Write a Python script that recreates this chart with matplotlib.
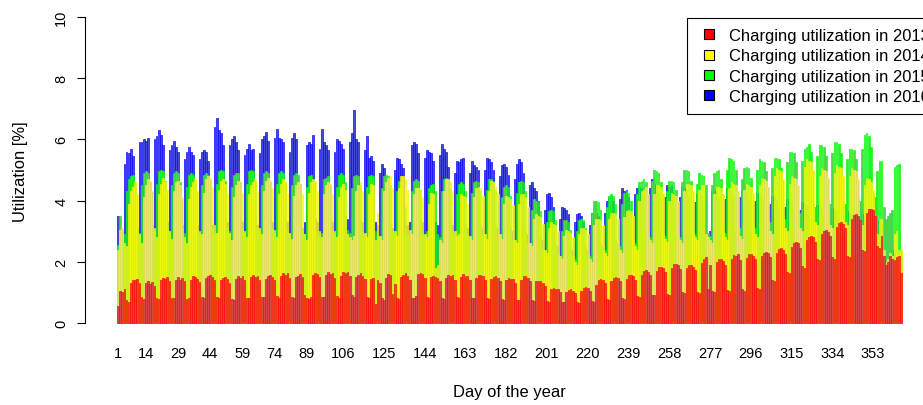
import matplotlib
matplotlib.use("Agg")
import matplotlib.pyplot as plt
from matplotlib.lines import Line2D

plt.rcParams['font.family'] = ['Liberation Sans', 'DejaVu Sans']

# daily charging utilization [%], one row per week (day 1 = Jan 1)
util_2013 = [
    .57, 1.05, 1.0, 1.1, .74, .7, 1.3,
    1.42, 1.4, 1.45, 1.3, .84, .78, 1.32,
    1.38, 1.28, 1.35, 1.2, .8, .79, 1.4,
    1.48, 1.44, 1.5, 1.36, .8, .82, 1.4,
    1.5, 1.42, 1.46, 1.38, .78, .8, 1.42,
    1.55, 1.5, 1.45, 1.35, .84, .8, 1.48,
    1.52, 1.56, 1.5, 1.4, .85, .8, 1.4,
    1.46, 1.5, 1.44, 1.32, .78, .76, 1.45,
    1.52, 1.48, 1.54, 1.4, .82, .8, 1.5,
    1.58, 1.5, 1.55, 1.42, .86, .84, 1.44,
    1.52, 1.58, 1.5, 1.4, .88, .82, 1.52,
    1.62, 1.56, 1.64, 1.48, .85, .8, 1.5,
    1.55, 1.6, 1.5, .9, .82, .78, .85,
    1.58, 1.64, 1.6, 1.5, .86, .84, 1.56,
    1.65, 1.6, 1.62, 1.48, .88, .82, 1.55,
    1.68, 1.64, 1.66, 1.52, .9, .86, 1.5,
    1.56, 1.62, 1.55, 1.45, .84, .8, 1.45,
    1.48, .62, 1.42, 1.3, .8, .76, 1.48,
    1.6, 1.56, .95, 1.28, .8, .78, 1.5,
    1.58, 1.62, 1.55, 1.42, .82, .8, .88,
    1.6, 1.64, 1.6, 1.48, .86, .82, 1.5,
    1.54, 1.5, 1.46, 1.36, .8, .78, 1.48,
    1.58, 1.54, 1.56, 1.42, .84, .8, 1.5,
    1.6, 1.55, 1.52, 1.4, .82, .8, 1.46,
    1.56, 1.58, 1.54, 1.42, .8, .78, 1.45,
    1.5, 1.52, 1.48, 1.36, .78, .76, 1.4,
    1.48, 1.45, 1.44, 1.32, .76, .74, 1.42,
    1.52, 1.54, 1.48, 1.36, .75, .72, 1.36,
    1.38, 1.36, 1.3, 1.2, .72, .7, 1.1,
    1.14, 1.1, 1.1, 1.0, .7, .68, 1.02,
    1.08, 1.1, 1.05, .98, .68, .66, 1.05,
    1.15, 1.18, 1.14, 1.05, .72, .7, 1.25,
    1.4, 1.44, 1.42, 1.3, .78, .76, 1.38,
    1.48, 1.5, 1.46, 1.38, .8, .78, 1.45,
    1.56, 1.56, 1.52, 1.42, .88, .85, 1.58,
    1.7, 1.74, 1.68, 1.56, .92, .9, 1.7,
    1.82, 1.84, 1.78, 1.66, .95, .92, 1.8,
    1.92, 1.94, 1.9, 1.76, 1.0, .98, 1.8,
    1.9, 1.88, 1.84, 1.72, 1.02, .98, 1.95,
    2.1, 2.14, 1.1, 1.9, 1.05, 1.02, 2.0,
    2.08, 2.1, 2.04, 1.9, 1.08, 1.04, 2.1,
    2.22, 2.2, 2.24, 2.05, 1.1, 1.06, 2.12,
    2.24, 2.26, 2.2, 2.08, 1.15, 1.1, 2.2,
    2.3, 2.32, 2.28, 2.15, 1.4, 1.38, 2.3,
    2.42, 2.44, 2.4, 2.25, 1.66, 1.62, 2.48,
    2.6, 2.64, 2.62, 2.45, 1.85, 1.8, 2.7,
    2.82, 2.84, 2.8, 2.65, 2.1, 2.05, 2.9,
    3.02, 3.04, 2.98, 2.85, 2.15, 2.1, 3.15,
    3.28, 3.3, 3.24, 3.1, 2.2, 2.15, 3.4,
    3.52, 3.55, 3.5, 3.35, 2.4, 2.35, 3.6,
    3.74, 3.72, 3.68, 3.5, 2.5, 2.45, 2.85,
    2.2, 1.9, 2.0, 2.2, 2.1, 2.05, 2.15,
    2.2, 1.62,
]

util_2014 = [
    2.4, 3.05, 3.1, 2.6, 2.5, 3.9, 4.3,
    4.45, 4.6, 4.2, 2.9, 2.6, 4.1, 4.5,
    4.7, 4.65, 4.3, 3.1, 2.8, 4.2, 4.55,
    4.75, 4.6, 4.35, 3.0, 2.75, 4.3, 4.6,
    4.65, 4.5, 4.1, 2.8, 2.6, 4.05, 4.45,
    4.6, 4.7, 4.3, 3.0, 2.9, 4.25, 4.7,
    4.8, 4.75, 4.45, 3.2, 2.95, 4.35, 4.65,
    4.7, 4.55, 4.2, 2.95, 2.7, 4.1, 4.5,
    4.65, 4.6, 4.25, 3.0, 2.8, 4.2, 4.5,
    4.6, 4.7, 4.3, 3.1, 2.9, 4.3, 4.65,
    4.75, 4.65, 4.4, 3.05, 2.8, 4.2, 4.55,
    4.7, 4.6, 4.25, 2.95, 2.75, 4.15, 4.5,
    4.6, 4.55, 4.2, 2.9, 2.7, 4.25, 4.6,
    4.7, 4.65, 4.3, 3.0, 2.8, 4.2, 4.5,
    4.6, 4.55, 4.2, 3.0, 2.8, 4.1, 4.45,
    4.55, 4.35, 2.9, 2.8, 2.7, 2.85, 4.3,
    4.5, 4.6, 4.3, 2.95, 2.8, 4.2, 4.55,
    4.5, 2.7, 3.6, 2.85, 2.7, 4.3, 4.6,
    4.75, 4.8, 4.4, 3.0, 2.85, 4.4, 4.8,
    4.8, 4.7, 4.35, 3.05, 2.9, 4.2, 4.4,
    4.4, 4.35, 4.1, 2.9, 2.8, 3.9, 4.25,
    4.2, 1.8, 1.9, 2.7, 2.6, 4.3, 4.7,
    4.7, 4.6, 4.3, 3.0, 2.85, 2.9, 4.2,
    4.15, 4.1, 3.9, 2.85, 2.7, 4.1, 4.4,
    4.45, 4.4, 4.15, 2.9, 2.75, 4.3, 4.65,
    4.6, 4.45, 4.2, 2.9, 2.75, 3.9, 4.15,
    4.1, 4.05, 3.85, 2.7, 2.6, 3.9, 4.2,
    4.2, 4.1, 3.8, 2.6, 2.5, 3.4, 3.55,
    3.5, 3.45, 3.25, 2.4, 2.3, 3.1, 3.3,
    3.25, 3.2, 3.0, 2.2, 2.1, 2.85, 3.05,
    3.0, 2.95, 2.8, 2.0, 1.9, 2.9, 3.1,
    3.1, 3.05, 2.9, 2.1, 2.0, 3.2, 3.4,
    3.4, 3.35, 3.2, 2.3, 2.2, 3.4, 3.6,
    3.6, 3.55, 3.4, 2.4, 2.3, 3.45, 3.65,
    3.7, 3.65, 3.5, 2.5, 2.4, 4.0, 4.3,
    4.35, 4.45, 4.2, 2.7, 2.6, 4.2, 4.5,
    4.5, 4.45, 4.25, 2.75, 2.65, 4.0, 4.25,
    4.2, 4.15, 4.0, 2.7, 2.6, 4.3, 4.55,
    4.55, 4.5, 4.3, 2.8, 2.7, 4.35, 4.5,
    4.5, 2.9, 2.8, 2.7, 2.6, 4.2, 4.45,
    4.45, 4.4, 4.2, 2.8, 2.7, 4.4, 4.6,
    4.55, 4.5, 4.3, 2.85, 2.75, 4.35, 4.55,
    4.5, 4.45, 4.25, 2.9, 2.8, 4.5, 4.75,
    4.7, 4.65, 4.45, 3.0, 2.9, 4.8, 5.05,
    5.0, 4.95, 4.7, 3.1, 3.0, 4.55, 4.8,
    4.75, 4.7, 4.5, 3.1, 3.0, 5.1, 5.35,
    5.3, 5.25, 5.0, 3.3, 3.2, 4.8, 5.05,
    5.0, 4.95, 4.75, 3.2, 3.1, 4.9, 5.15,
    5.1, 5.05, 4.8, 3.3, 3.2, 4.8, 5.05,
    5.0, 4.95, 4.7, 3.3, 3.2, 4.5, 4.75,
    4.7, 4.6, 4.35, 3.0, 2.9, 3.4, 3.4,
    2.4, 2.0, 2.1, 2.3, 2.2, 2.9, 3.0,
    2.4, 2.4,
]

util_2015 = [
    2.55, 3.5, 3.0, 2.9, 4.3, 4.7, 4.8,
    4.85, 4.55, 3.1, 2.95, 4.5, 4.9, 4.95,
    4.9, 4.6, 3.2, 3.0, 4.55, 4.95, 5.0,
    4.95, 4.65, 3.15, 3.0, 4.5, 4.9, 4.95,
    4.9, 4.6, 3.1, 2.95, 4.45, 4.85, 4.9,
    4.85, 4.55, 3.05, 2.9, 4.5, 4.85, 4.9,
    4.85, 4.6, 3.1, 2.95, 4.55, 4.95, 5.0,
    4.95, 4.65, 3.15, 3.0, 4.45, 4.85, 4.9,
    4.9, 4.6, 3.1, 2.95, 4.55, 4.95, 5.0,
    4.95, 4.65, 3.15, 3.0, 4.5, 4.9, 4.95,
    4.9, 4.6, 3.1, 2.95, 4.55, 4.9, 4.95,
    4.9, 4.6, 3.05, 2.95, 4.5, 4.85, 4.9,
    4.85, 4.55, 3.05, 2.9, 4.45, 4.8, 4.85,
    4.7, 3.0, 2.9, 2.8, 2.95, 4.7, 4.75,
    4.8, 4.5, 3.0, 2.9, 4.45, 4.85, 4.9,
    4.85, 4.6, 3.05, 2.95, 4.4, 4.8, 4.85,
    4.8, 4.5, 3.0, 2.9, 4.45, 4.8, 4.85,
    4.8, 3.0, 2.9, 2.8, 4.4, 4.8, 4.85,
    4.8, 4.5, 3.0, 2.9, 4.3, 4.65, 4.6,
    2.95, 3.8, 2.9, 2.8, 4.3, 4.65, 4.7,
    4.65, 4.35, 2.95, 2.85, 3.0, 4.4, 4.5,
    4.55, 4.3, 2.9, 2.8, 4.3, 4.7, 4.75,
    4.7, 4.4, 2.95, 2.85, 4.2, 4.55, 4.6,
    4.55, 4.3, 2.9, 2.8, 4.25, 4.6, 4.65,
    4.6, 4.3, 2.85, 2.75, 4.35, 4.7, 4.7,
    4.65, 4.35, 2.8, 2.7, 4.1, 4.45, 4.5,
    4.45, 4.15, 2.7, 2.6, 4.25, 4.6, 4.65,
    4.6, 4.3, 2.6, 2.5, 3.7, 4.05, 4.0,
    3.95, 3.65, 2.4, 2.3, 3.3, 3.65, 3.7,
    3.65, 3.35, 2.3, 2.2, 3.0, 3.35, 3.35,
    3.3, 3.05, 2.2, 2.1, 3.0, 3.35, 3.4,
    3.35, 3.1, 2.3, 2.2, 3.6, 4.0, 4.0,
    3.95, 3.7, 2.5, 2.4, 3.8, 4.15, 4.2,
    4.15, 3.9, 2.6, 2.5, 3.9, 4.25, 4.3,
    4.25, 4.0, 2.7, 2.6, 4.2, 4.6, 4.65,
    4.7, 4.6, 2.9, 2.8, 4.65, 5.0, 4.95,
    4.9, 4.6, 2.95, 2.85, 4.3, 4.65, 4.65,
    4.6, 4.35, 2.9, 2.8, 4.6, 5.0, 5.0,
    4.95, 4.65, 3.0, 2.9, 4.55, 4.9, 4.85,
    4.8, 4.5, 2.95, 2.85, 4.5, 4.9, 4.95,
    5.0, 4.7, 3.05, 2.95, 5.0, 5.4, 5.35,
    5.3, 5.0, 3.2, 3.1, 4.7, 5.05, 5.1,
    5.05, 4.75, 3.2, 3.1, 5.0, 5.35, 5.3,
    5.25, 4.95, 3.4, 3.3, 5.05, 5.4, 5.4,
    5.35, 5.05, 3.5, 3.4, 5.25, 5.6, 5.6,
    5.55, 5.25, 3.7, 3.6, 5.3, 5.7, 5.75,
    5.85, 5.6, 3.9, 3.8, 5.45, 5.8, 5.8,
    5.75, 5.45, 4.0, 3.9, 5.55, 5.9, 5.9,
    5.85, 5.55, 4.0, 3.9, 5.35, 5.7, 5.7,
    5.65, 5.35, 4.1, 4.0, 5.7, 6.15, 6.2,
    6.1, 5.75, 4.2, 4.1, 4.95, 5.3, 5.3,
    3.8, 3.4, 3.5, 3.6, 3.7, 5.1, 5.15,
    5.2, 2.4,
]

util_2016 = [
    3.5, 2.6, 2.5, 5.2, 5.6, 5.55, 5.7,
    5.45, 3.2, 3.1, 5.9, 5.9, 6.0, 5.95,
    6.05, 3.3, 3.2, 6.0, 6.1, 6.3, 6.15,
    5.8, 3.4, 3.3, 5.65, 5.8, 5.95, 5.75,
    5.6, 3.3, 3.2, 5.35, 5.6, 5.75, 5.6,
    5.5, 3.3, 3.2, 5.35, 5.6, 5.65, 5.6,
    5.3, 3.3, 3.2, 6.4, 6.7, 6.3, 6.2,
    5.8, 3.4, 3.3, 5.8, 6.0, 6.1, 5.9,
    5.65, 3.4, 3.3, 5.5, 5.7, 5.85, 5.65,
    5.7, 3.3, 3.2, 5.55, 6.0, 6.1, 6.25,
    5.95, 3.4, 3.3, 6.05, 6.35, 6.05, 6.0,
    5.9, 3.4, 3.3, 5.6, 6.05, 6.2, 6.0,
    3.4, 3.2, 3.1, 3.3, 5.8, 5.9, 5.85,
    6.15, 3.4, 3.3, 5.7, 6.35, 5.9, 5.8,
    5.65, 3.4, 3.3, 5.6, 6.0, 5.95, 5.85,
    5.7, 3.5, 3.4, 5.9, 6.2, 6.95, 6.0,
    5.9, 3.4, 3.3, 5.65, 6.1, 5.4, 5.45,
    5.3, 3.3, 3.2, 4.9, 5.2, 5.05, 3.4,
    4.4, 3.2, 3.1, 5.0, 5.4, 5.35, 5.2,
    5.05, 3.3, 3.2, 3.3, 5.8, 5.9, 5.85,
    5.55, 3.4, 3.3, 5.4, 5.65, 5.6, 5.55,
    5.3, 3.3, 3.2, 5.5, 5.85, 5.7, 5.6,
    5.1, 3.3, 3.2, 4.9, 5.3, 5.25, 5.35,
    5.4, 3.2, 3.1, 4.9, 5.3, 5.15, 5.1,
    5.0, 3.2, 3.1, 5.0, 5.4, 5.35, 5.25,
    5.0, 3.2, 3.1, 4.8, 5.15, 5.2, 5.1,
    4.85, 3.1, 3.0, 4.7, 5.2, 5.35, 5.25,
    4.9, 3.0, 2.9, 4.5, 4.6, 4.4, 4.3,
    4.0, 2.8, 2.7, 3.7, 4.2, 4.25, 4.1,
    3.8, 2.6, 2.5, 3.4, 3.8, 3.75, 3.7,
    3.55, 2.5, 2.4, 3.3, 3.55, 3.6, 3.5,
    3.3, 2.5, 2.4, 3.2, 3.6, 3.55, 3.6,
    3.5, 2.6, 2.5, 3.6, 4.0, 4.1, 4.15,
    4.0, 2.7, 2.6, 4.05, 4.4, 4.3, 4.35,
    4.1, 2.8, 2.7, 4.2, 4.4, 4.45, 4.4,
    4.25, 2.9, 2.8, 4.4, 4.7, 4.55, 4.5,
    4.25, 2.9, 2.8, 4.1, 4.5, 4.45, 4.5,
    4.25, 2.9, 2.8, 4.1, 4.45, 4.4, 4.35,
    4.1, 2.9, 2.8, 3.95, 4.2, 4.2, 4.15,
    4.0, 2.9, 2.8, 3.0, 4.3, 4.35, 4.3,
    4.05, 2.9, 2.8, 4.05, 4.4, 4.3, 4.25,
    4.1, 3.0, 2.9, 4.1, 4.35, 4.3, 4.25,
    4.0, 3.0, 2.9, 4.0, 4.25, 4.2, 4.15,
    3.9, 3.1, 3.0, 3.9, 4.15, 4.1, 4.05,
    3.8, 3.1, 3.0, 3.8, 4.05, 4.0, 3.95,
    3.7, 3.0, 2.9, 3.7, 3.95, 3.9, 3.85,
    3.6, 3.0, 2.9, 3.6, 3.85, 3.8, 3.75,
    3.5, 2.9, 2.8, 3.5, 3.75, 3.7, 3.65,
    3.4, 2.9, 2.8, 3.4, 3.65, 3.6, 3.55,
    3.3, 2.8, 2.7, 3.3, 3.55, 3.5, 3.45,
    3.2, 2.7, 2.6, 3.1, 3.35, 3.3, 3.2,
    2.4, 2.0, 2.1, 2.3, 2.4, 2.3, 2.2,
    2.3, 2.0,
]

tick_days = [1, 14, 29, 44, 59, 74, 89, 106, 125, 144, 163, 182, 201,
             220, 239, 258, 277, 296, 315, 334, 353]

# label, values, outline colour, fill colour
series = [
    ("Charging utilization in 2013", util_2013, "#ff0000", "#d84848"),
    ("Charging utilization in 2014", util_2014, "#ffff00", "#dede5a"),
    ("Charging utilization in 2015", util_2015, "#00ff00", "#4cd84c"),
    ("Charging utilization in 2016", util_2016, "#0000ff", "#4848d8"),
]

W, H = 923, 406
fig = plt.figure(figsize=(W / 100, H / 100), dpi=100)
# plot region runs a little past the right edge of the canvas (as in the original)
ax = fig.add_axes([85 / W, (H - 336.2) / H, 848 / W, 330.5 / H])

# later years drawn first, so earlier years sit in front
for label, vals, edge, fill in reversed(series):
    days = range(1, len(vals) + 1)
    ax.bar(days, vals, width=0.8, color=fill, edgecolor=edge, linewidth=0.45)

ax.set_xlim(-14.38, 380.95)
ax.set_ylim(-0.4, 10.4)

for s in ["top", "right", "bottom"]:
    ax.spines[s].set_visible(False)
ax.spines["left"].set_bounds(0, 10)
ax.spines["left"].set_linewidth(0.8)

ax.set_yticks([0, 2, 4, 6, 8, 10])
ax.tick_params(axis="y", length=6, width=0.8, pad=6, labelsize=10.5,
               labelrotation=90)
for t in ax.get_yticklabels():
    t.set_va("center")
ax.set_xticks(tick_days)
ax.set_xticklabels([str(d) for d in tick_days])
ax.tick_params(axis="x", length=0, pad=8, labelsize=10.5)

fig.text(21 / W, 1 - 172 / H, "Utilization [%]", rotation=90,
         ha="center", va="center", fontsize=11.9)
fig.text(509 / W, 1 - 393 / H, "Day of the year",
         ha="center", va="center", fontsize=11.9)

handles = [Line2D([], [], linestyle="none", marker="s", markersize=7.8,
                  markerfacecolor=edge, markeredgecolor="black",
                  markeredgewidth=0.8) for _, _, edge, _ in series]
leg = fig.legend(handles, [s[0] for s in series], loc="upper left",
                 bbox_to_anchor=(687 / W, 1 - 19 / H), borderaxespad=0,
                 fontsize=11.9, fancybox=False, framealpha=1,
                 edgecolor="black", borderpad=0.6, handlelength=1.41,
                 handletextpad=0.54, labelspacing=0.33)
leg.get_frame().set_linewidth(0.8)

fig.savefig("out.png", dpi=100)
